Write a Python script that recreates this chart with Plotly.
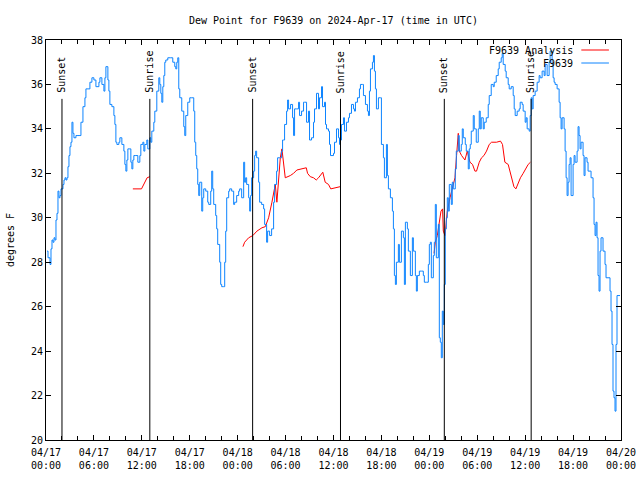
import plotly.graph_objects as go

# ---- data (hours since 2024-04-17 00:00 UTC) ----
obs_hours = [
    0.125, 0.25, 0.5, 0.625, 0.75, 0.875, 1.0, 1.125, 1.25, 1.375, 1.5, 1.625, 1.75, 1.875,
    2.125, 2.25, 2.375, 2.5, 2.625, 2.75, 2.875, 3.0, 3.125, 3.25, 3.375, 3.5, 3.75, 4.0,
    4.25, 4.375, 4.625, 4.875, 5.0, 5.25, 5.375, 5.5, 5.75, 6.0, 6.25, 6.375, 6.625, 6.75,
    7.0, 7.25, 7.375, 7.5, 7.75, 7.875, 8.0, 8.25, 8.5, 8.625, 8.75, 8.875, 9.125, 9.25,
    9.5, 9.75, 9.875, 10.0, 10.125, 10.25, 10.5, 10.625, 10.75, 10.875, 11.0, 11.25, 11.5,
    11.75, 11.875, 12.125, 12.25, 12.375, 12.625, 12.75, 13.0, 13.125, 13.25, 13.5, 13.625,
    13.875, 14.125, 14.25, 14.375, 14.5, 14.625, 14.75, 14.875, 15.0, 15.25, 15.625, 15.875,
    16.125, 16.25, 16.375, 16.5, 16.625, 16.75, 17.0, 17.25, 17.375, 17.5, 17.75, 18.0,
    18.25, 18.5, 18.625, 18.75, 18.875, 19.0, 19.125, 19.25, 19.5, 19.625, 19.75, 20.0,
    20.25, 20.375, 20.625, 20.75, 20.875, 21.0, 21.25, 21.375, 21.5, 21.75, 21.875, 22.0,
    22.25, 22.375, 22.5, 22.625, 22.875, 23.0, 23.25, 23.5, 23.625, 23.875, 24.125, 24.25,
    24.5, 24.75, 24.875, 25.0, 25.125, 25.375, 25.5, 25.625, 25.75, 26.0, 26.125, 26.25,
    26.375, 26.625, 26.75, 27.0, 27.25, 27.375, 27.625, 27.75, 28.0, 28.25, 28.5, 28.625,
    28.875, 29.0, 29.25, 29.5, 29.625, 29.75, 29.875, 30.125, 30.25, 30.375, 30.625, 30.875,
    31.0, 31.125, 31.375, 31.625, 31.75, 32.0, 32.25, 32.375, 32.625, 32.875, 33.0, 33.25,
    33.5, 33.625, 33.875, 34.125, 34.25, 34.5, 34.625, 34.875, 35.0, 35.125, 35.375, 35.5,
    35.625, 36.0, 36.125, 36.375, 36.625, 36.75, 36.875, 37.0, 37.25, 37.375, 37.625, 37.875,
    38.0, 38.25, 38.5, 38.625, 38.75, 39.0, 39.25, 39.375, 39.625, 39.75, 40.0, 40.25,
    40.375, 40.5, 40.625, 40.875, 41.0, 41.125, 41.25, 41.375, 41.625, 41.875, 42.0, 42.25,
    42.375, 42.625, 42.75, 42.875, 43.125, 43.375, 43.5, 43.625, 43.75, 43.875, 44.125, 44.25,
    44.5, 44.75, 44.875, 45.0, 45.25, 45.375, 45.625, 45.875, 46.0, 46.25, 46.375, 46.5,
    46.75, 47.0, 47.25, 47.375, 47.625, 47.875, 48.0, 48.125, 48.25, 48.5, 48.625, 48.75,
    48.875, 49.125, 49.25, 49.375, 49.5, 49.625, 49.75, 49.875, 50.0, 50.125, 50.25, 50.375,
    50.5, 50.75, 50.875, 51.0, 51.25, 51.375, 51.625, 51.75, 52.0, 52.125, 52.25, 52.5,
    52.625, 52.875, 53.0, 53.125, 53.25, 53.5, 53.625, 53.875, 54.125, 54.25, 54.375, 54.5,
    54.75, 54.875, 55.125, 55.375, 55.5, 55.75, 56.0, 56.125, 56.375, 56.625, 56.75, 57.0,
    57.125, 57.25, 57.5, 57.625, 57.875, 58.0, 58.25, 58.5, 58.625, 58.75, 59.0, 59.25,
    59.375, 59.625, 59.75, 60.0, 60.125, 60.25, 60.5, 60.625, 60.75, 60.875, 61.0, 61.25,
    61.5, 61.75, 61.875, 62.125, 62.375, 62.5, 62.75, 63.0, 63.125, 63.375, 63.5, 63.625,
    63.75, 64.0, 64.25, 64.375, 64.5, 64.625, 64.875, 65.0, 65.125, 65.25, 65.375, 65.5,
    65.625, 65.75, 66.0, 66.125, 66.25, 66.5, 66.625, 66.75, 66.875, 67.0, 67.25, 67.375,
    67.5, 67.75, 67.875, 68.125, 68.25, 68.5, 68.625, 68.75, 68.875, 69.0, 69.125, 69.25,
    69.375, 69.5, 69.625, 69.75, 70.0, 70.125, 70.5, 70.625, 70.75, 70.875, 71.0, 71.125,
    71.25, 71.375, 71.5, 71.875,
]
obs_dewpoint = [
    28.5, 28.2, 27.9, 28.6, 29.0, 28.9, 29.1, 29.0, 29.9, 30.2, 31.2, 30.9, 31.0, 31.3,
    31.5, 31.7, 31.8, 31.7, 31.8, 32.3, 32.8, 33.2, 33.4, 34.3, 33.8, 33.6, 33.7, 33.7,
    33.7, 34.3, 35.0, 35.4, 35.8, 35.8, 35.8, 36.1, 36.3, 36.2, 35.9, 35.9, 36.1, 36.3,
    36.0, 35.7, 36.3, 36.8, 36.2, 35.7, 35.1, 35.0, 34.6, 34.2, 33.4, 33.3, 33.4, 33.6,
    33.3, 33.0, 32.4, 32.1, 32.6, 33.1, 33.1, 32.5, 32.2, 32.6, 32.8, 32.8, 32.5,
    32.8, 33.3, 33.4, 33.0, 33.3, 33.5, 33.1, 33.6, 33.4, 33.9, 34.3, 34.8,
    35.7, 36.3, 36.0, 35.6, 35.2, 35.9, 36.4, 37.0, 37.1, 37.2, 37.2, 37.0,
    36.8, 36.7, 37.0, 37.2, 35.8, 35.4, 34.8, 34.1, 33.7, 34.6, 35.2, 35.4,
    35.4, 34.8, 33.4, 32.8, 32.2, 31.5, 31.0, 31.6, 30.3, 30.9, 31.3, 31.2,
    30.7, 30.6, 31.2, 32.1, 31.3, 30.6, 30.1, 29.5, 28.8, 28.0, 27.0, 26.9,
    26.9, 28.0, 29.4, 30.9, 31.2, 31.3, 31.2, 30.6, 30.7, 31.0, 31.2, 31.3,
    30.9, 32.5, 31.6, 31.8, 31.5, 30.9, 30.3, 31.0, 31.8, 32.1, 32.8, 33.0,
    32.7, 31.6, 30.7, 30.6, 30.4, 29.7, 28.9, 29.4, 29.2, 29.5, 30.7, 31.5,
    32.1, 32.7, 32.7, 33.0, 33.5, 33.5, 34.2, 34.8, 35.3, 34.9, 35.1, 34.5,
    33.7, 34.9, 34.9, 35.2, 34.6, 34.8, 35.2, 35.2, 34.3, 34.8, 33.5, 33.6,
    34.3, 34.9, 35.6, 34.9, 35.4, 35.9, 35.0, 35.2, 34.2, 34.0, 33.9, 33.3,
    32.8, 32.9, 33.4, 34.0, 33.6, 33.3, 33.5, 34.2, 34.5, 33.9, 34.3, 34.5,
    34.7, 35.1, 34.9, 34.8, 35.2, 35.4, 35.8, 36.0, 36.0, 35.5, 35.1, 34.8,
    34.6, 35.7, 36.7, 37.0, 37.3, 36.6, 35.8, 34.9, 35.4, 35.4, 33.3, 32.7,
    31.8, 33.3, 31.9, 31.3, 30.9, 30.3, 29.5, 27.4, 27.0, 28.0, 28.8, 28.0,
    29.4, 29.1, 27.0, 29.8, 29.5, 28.5, 27.4, 29.1, 28.5, 27.4, 26.7, 27.4,
    27.6, 27.6, 27.4, 27.1, 27.1, 27.9, 28.8, 28.9, 27.3, 28.3, 28.9, 30.6,
    28.2, 29.7, 24.6, 24.4, 23.7, 25.8, 25.2, 27.0, 29.5, 30.0, 30.9, 30.3,
    31.5, 30.6, 31.6, 31.3, 32.2, 33.0, 33.7, 33.0, 33.3, 34.0, 33.6, 33.3,
    33.0, 32.2, 33.1, 33.3, 33.9, 34.6, 34.0, 33.4, 34.0, 34.8, 34.0, 34.5,
    34.0, 34.3, 34.5, 35.1, 35.5, 36.0, 35.9, 36.1, 36.4, 36.7, 37.0, 37.2,
    37.4, 36.9, 36.6, 36.3, 36.0, 35.8, 35.9, 35.5, 34.9, 34.6, 34.8, 34.9,
    35.2, 35.1, 34.8, 34.3, 34.5, 34.0, 33.9, 34.6, 35.4, 34.9, 35.5, 35.7,
    36.1, 36.4, 36.3, 36.6, 36.4, 36.9, 36.4, 37.0, 37.5, 36.9, 36.3, 36.1,
    36.0, 35.8, 35.2, 34.5, 34.0, 34.5, 34.0, 33.0, 31.8, 31.0, 31.6, 32.4,
    32.7, 31.0, 32.4, 32.8, 32.5, 33.0, 34.1, 33.7, 33.1, 33.4, 32.8, 31.9,
    32.7, 32.5, 32.1, 32.1, 31.8, 30.9, 29.7, 29.2, 29.8, 29.1, 27.4, 26.7,
    28.5, 29.1, 29.1, 28.5, 27.9, 27.3, 27.3, 26.7, 25.8, 24.3, 22.2, 21.9,
    21.3, 24.3, 26.5, 26.5,
]

analysis_hours = [
    10.875, 11.96, 12.66, 13.0, None,
    24.66, 24.875, 25.375, 25.9, 26.41, 27.04, 27.46, 27.875, 28.29, 28.71, 28.91, 29.125,
    29.34, 29.54, 29.84, 29.96, 30.59, 31.0, 31.41, 32.04, 32.59, 32.75, 33.09, 33.5, 33.84,
    34.125, 34.66, 34.96, 35.375, 35.66, 36.21, 36.84, None,
    48.59, 48.75, 49.0, 49.25, 49.46, 49.66, 49.75, 49.96, 50.16, 50.25, 50.59, 50.79, 51.0,
    51.21, 51.41, 51.625, 51.75, 52.04, 52.46, 52.75, 53.09, 53.41, 53.71, 53.91, 54.25,
    54.54, 54.84, 55.16, 55.5, 55.79, 56.41, 56.91, 57.16, 57.46, 57.875, 58.29, 58.59,
    58.84, 59.125, 59.41, 59.75, 60.09, 60.375, 60.66,
]
analysis_dewpoint = [
    31.3, 31.3, 31.8, 31.85, None,
    28.7, 28.9, 29.1, 29.2, 29.4, 29.55, 29.6, 30.0, 30.7, 31.5, 30.7, 31.8,
    32.7, 33.1, 32.2, 31.8, 31.9, 32.0, 32.15, 32.2, 32.25, 32.0, 31.85, 31.8, 31.7,
    31.8, 32.05, 31.6, 31.5, 31.3, 31.35, 31.4, None,
    28.4, 28.9, 29.2, 29.8, 30.3, 30.4, 29.4, 29.2, 29.9, 30.3, 30.9, 31.2, 31.6,
    31.8, 32.8, 33.8, 33.0, 32.8, 32.6, 33.0, 32.5, 32.4, 32.1, 32.1, 32.5,
    32.7, 32.8, 33.0, 33.3, 33.4, 33.4, 33.45, 33.3, 32.5, 32.4, 31.8, 31.4,
    31.3, 31.6, 31.8, 32.0, 32.2, 32.4, 32.5,
]

sun_event_hours = [2.0, 13.0, 25.875, 36.875, 49.875, 60.75]
sun_event_labels = ["Sunset", "Sunrise", "Sunset", "Sunrise", "Sunset", "Sunrise"]
sun_line_top = 35.35

x_tick_hours = [0, 6, 12, 18, 24, 30, 36, 42, 48, 54, 60, 66, 72]
x_tick_labels = ["04/17<br>00:00", "04/17<br>06:00", "04/17<br>12:00", "04/17<br>18:00",
                 "04/18<br>00:00", "04/18<br>06:00", "04/18<br>12:00", "04/18<br>18:00",
                 "04/19<br>00:00", "04/19<br>06:00", "04/19<br>12:00", "04/19<br>18:00",
                 "04/20<br>00:00"]
y_ticks = [20, 22, 24, 26, 28, 30, 32, 34, 36, 38]

series_names = ["F9639 Analysis", "F9639"]
series_colors = ["#ff0000", "#0d84ff"]

FONT = "DejaVu Sans Mono"

fig = go.Figure()
fig.add_trace(go.Scatter(x=analysis_hours, y=analysis_dewpoint, mode="lines",
                         name=series_names[0], connectgaps=False,
                         line=dict(color=series_colors[0], width=1)))
fig.add_trace(go.Scatter(x=obs_hours, y=obs_dewpoint, mode="lines", name=series_names[1],
                         line=dict(color=series_colors[1], width=1, shape="hv")))

for h, lab in zip(sun_event_hours, sun_event_labels):
    fig.add_shape(type="line", xref="x", yref="y", x0=h, x1=h, y0=y_ticks[0], y1=sun_line_top,
                  line=dict(color="black", width=1))
    fig.add_annotation(x=h, y=sun_line_top, xref="x", yref="y", text=lab, textangle=-90,
                       showarrow=False, xanchor="center", yanchor="bottom", yshift=4,
                       font=dict(family=FONT, size=10, color="black"))

# gnuplot-style key (text right, sample line after)
legend_rows = [0.975, 0.9425]
for name, col, yy in zip(series_names, series_colors, legend_rows):
    fig.add_annotation(x=0.92, y=yy, xref="paper", yref="paper", text=name, showarrow=False,
                       xanchor="right", yanchor="middle",
                       font=dict(family=FONT, size=10, color="black"))
    fig.add_shape(type="line", xref="paper", yref="paper", x0=0.931, x1=0.979, y0=yy, y1=yy,
                  line=dict(color=col, width=1))

fig.update_layout(
    width=640, height=480,
    margin=dict(l=46, r=19, t=40, b=40),
    paper_bgcolor="white", plot_bgcolor="white",
    showlegend=False,
    font=dict(family=FONT, size=10, color="black"),
    title=dict(text="Dew Point for F9639 on 2024-Apr-17 (time in UTC)", x=0.521, xanchor="center",
               y=1 - 20 / 480, yanchor="middle", font=dict(family=FONT, size=10, color="black")),
)
fig.update_xaxes(range=[0, 72], tickvals=x_tick_hours, ticktext=x_tick_labels,
                 ticks="inside", ticklen=5, tickcolor="black", showgrid=False, zeroline=False,
                 showline=True, linecolor="black", linewidth=1, mirror="allticks",
                 automargin=False, ticklabelstandoff=3,
                 minor=dict(dtick=2, tick0=0, ticks="inside", ticklen=4, tickcolor="black",
                            showgrid=False),
                 tickfont=dict(family=FONT, size=10, color="black"))
fig.update_yaxes(range=[20, 38], tickvals=y_ticks, ticks="inside", ticklen=5, tickcolor="black",
                 showgrid=False, zeroline=False, showline=True, linecolor="black", linewidth=1,
                 mirror="allticks", automargin=False,
                 tickfont=dict(family=FONT, size=10, color="black"),
                 title=dict(text="degrees F", standoff=14,
                            font=dict(family=FONT, size=10, color="black")))

fig.write_html("out.html", config={"displayModeBar": False},
               post_script="document.body.style.margin='0px';")
